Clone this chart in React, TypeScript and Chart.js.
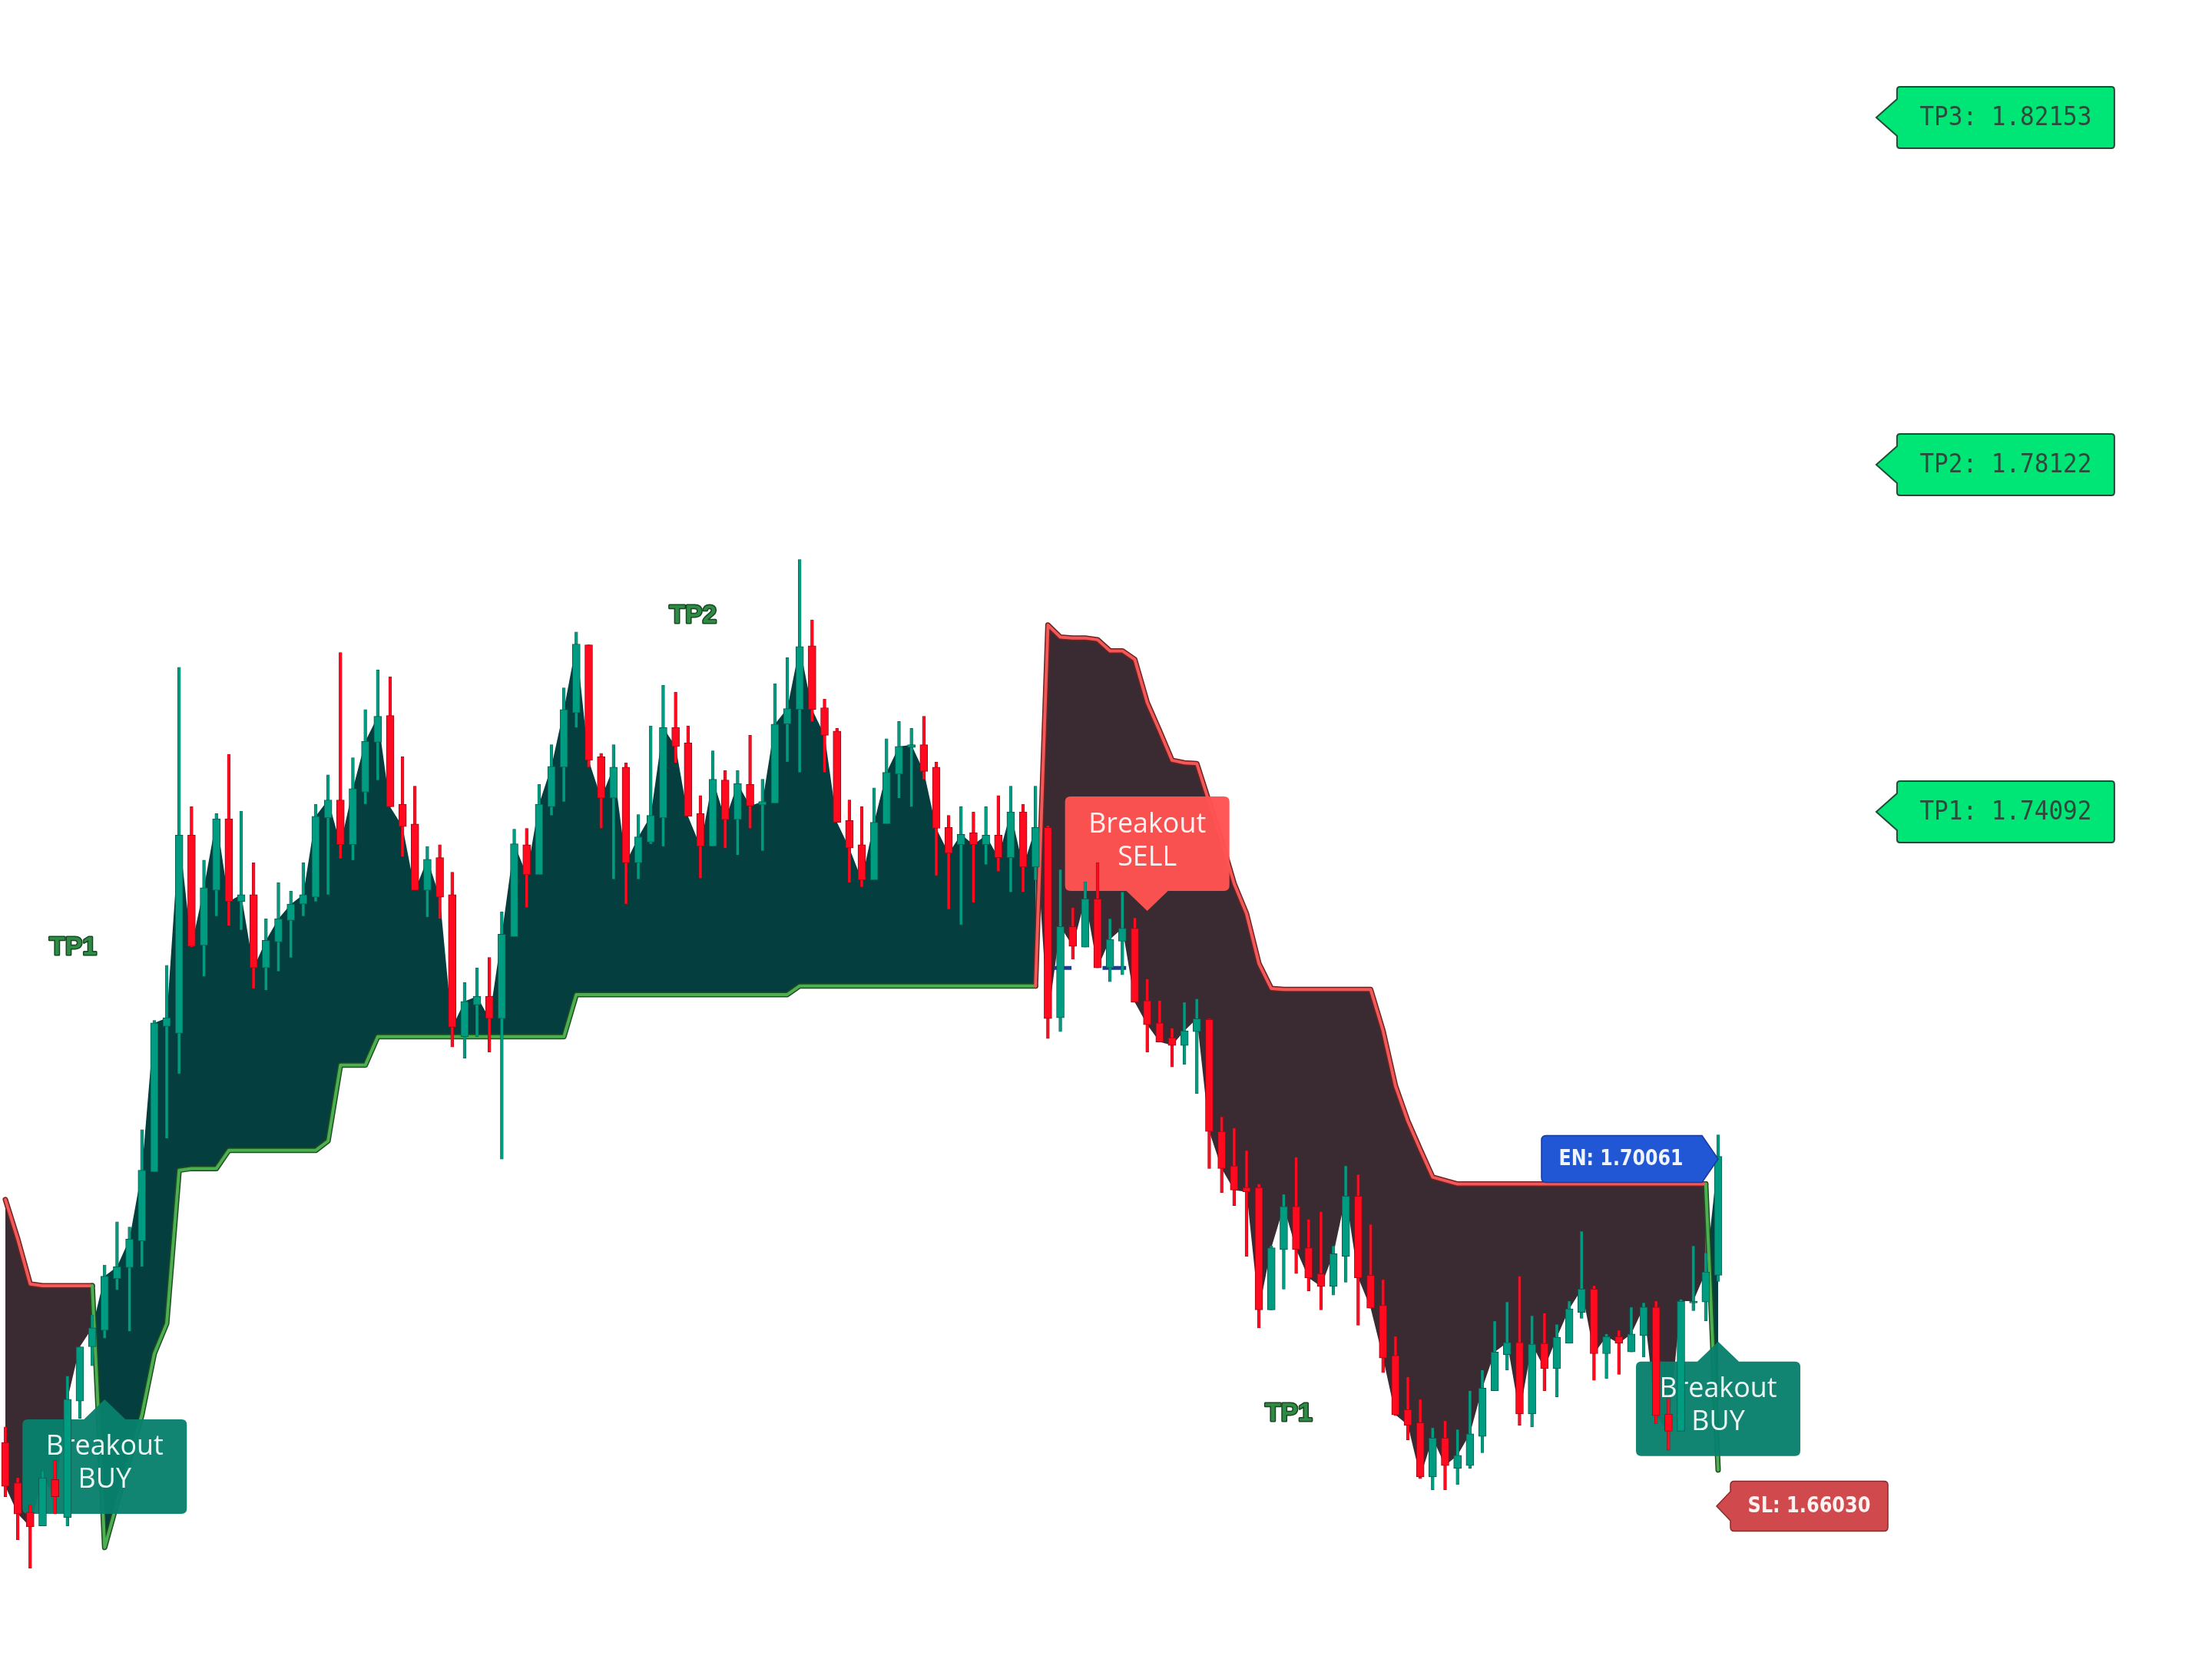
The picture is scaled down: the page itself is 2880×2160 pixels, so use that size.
import React, { useEffect, useRef } from "react";
import { Chart, registerables } from "chart.js";

Chart.register(...registerables);

// ---------------- data (prices) ----------------
const opens = [
  1.6677, 1.6630, 1.6596, 1.6580, 1.6634, 1.6590, 1.6725, 1.6788, 1.6807, 1.6867,
  1.6880, 1.6911, 1.6991, 1.7160, 1.7152, 1.7382, 1.7254, 1.7318, 1.7401, 1.7305,
  1.7313, 1.7228, 1.7258, 1.7283, 1.7302, 1.7310, 1.7402, 1.7423, 1.7371, 1.7432,
  1.7490, 1.7521, 1.7418, 1.7395, 1.7318, 1.7356, 1.7313, 1.7148, 1.7185, 1.7195,
  1.7169, 1.7264, 1.7371, 1.7336, 1.7415, 1.7461, 1.7524, 1.7603, 1.7473, 1.7425,
  1.7461, 1.7350, 1.7374, 1.7402, 1.7507, 1.7489, 1.7407, 1.7369, 1.7446, 1.7400,
  1.7441, 1.7417, 1.7419, 1.7511, 1.7528, 1.7602, 1.7530, 1.7503, 1.7399, 1.7371,
  1.7330, 1.7395, 1.7453, 1.7484, 1.7487, 1.7461, 1.7391, 1.7371, 1.7385, 1.7371,
  1.7382, 1.7356, 1.7409, 1.7345, 1.7391, 1.7170, 1.7276, 1.7252, 1.7308, 1.7228,
  1.7259, 1.7274, 1.7190, 1.7164, 1.7147, 1.7138, 1.7154, 1.7168, 1.7038, 1.6998,
  1.6973, 1.6973, 1.6831, 1.6901, 1.6951, 1.6903, 1.6873, 1.6858, 1.6893, 1.6963,
  1.6871, 1.6836, 1.6778, 1.6715, 1.6700, 1.6637, 1.6682, 1.6647, 1.6650, 1.6684,
  1.6737, 1.6779, 1.6793, 1.6710, 1.6792, 1.6763, 1.6792, 1.6828, 1.6855, 1.6780,
  1.6800, 1.6782, 1.6801, 1.6834, 1.6710, 1.6690, 1.6839, 1.6840, 1.6871,
];

const highs = [
  1.6695, 1.6636, 1.6604, 1.6644, 1.6656, 1.6754, 1.6788, 1.6825, 1.6883, 1.6933,
  1.6927, 1.7040, 1.7167, 1.7231, 1.7577, 1.7415, 1.7353, 1.7407, 1.7476, 1.7410,
  1.7350, 1.7285, 1.7327, 1.7317, 1.7350, 1.7418, 1.7452, 1.7594, 1.7472, 1.7528,
  1.7574, 1.7566, 1.7473, 1.7439, 1.7369, 1.7371, 1.7339, 1.7211, 1.7228, 1.7240,
  1.7293, 1.7389, 1.7390, 1.7441, 1.7487, 1.7553, 1.7618, 1.7603, 1.7477, 1.7487,
  1.7466, 1.7406, 1.7509, 1.7556, 1.7548, 1.7509, 1.7428, 1.7480, 1.7457, 1.7457,
  1.7498, 1.7447, 1.7558, 1.7588, 1.7702, 1.7632, 1.7540, 1.7506, 1.7423, 1.7415,
  1.7437, 1.7494, 1.7514, 1.7506, 1.7520, 1.7467, 1.7405, 1.7415, 1.7409, 1.7415,
  1.7428, 1.7439, 1.7418, 1.7439, 1.7393, 1.7342, 1.7298, 1.7328, 1.7350, 1.7285,
  1.7316, 1.7286, 1.7215, 1.7190, 1.7158, 1.7188, 1.7192, 1.7169, 1.7055, 1.7042,
  1.7016, 1.6977, 1.6905, 1.6965, 1.7008, 1.6936, 1.6945, 1.6905, 1.6998, 1.6988,
  1.6930, 1.6866, 1.6800, 1.6753, 1.6727, 1.6694, 1.6702, 1.6692, 1.6737, 1.6761,
  1.6818, 1.6840, 1.6870, 1.6824, 1.6827, 1.6814, 1.6841, 1.6922, 1.6859, 1.6803,
  1.6807, 1.6834, 1.6839, 1.6841, 1.6728, 1.6843, 1.6905, 1.6897, 1.7034,
];

const lows = [
  1.6614, 1.6564, 1.6531, 1.6580, 1.6594, 1.6580, 1.6705, 1.6766, 1.6798, 1.6854,
  1.6806, 1.6881, 1.6991, 1.7030, 1.7105, 1.7252, 1.7218, 1.7288, 1.7277, 1.7272,
  1.7204, 1.7202, 1.7224, 1.7240, 1.7288, 1.7305, 1.7313, 1.7355, 1.7353, 1.7418,
  1.7446, 1.7415, 1.7357, 1.7318, 1.7287, 1.7285, 1.7136, 1.7123, 1.7148, 1.7130,
  1.7006, 1.7264, 1.7298, 1.7336, 1.7405, 1.7421, 1.7507, 1.7461, 1.7390, 1.7331,
  1.7302, 1.7331, 1.7372, 1.7369, 1.7466, 1.7404, 1.7332, 1.7369, 1.7367, 1.7359,
  1.7390, 1.7364, 1.7419, 1.7467, 1.7455, 1.7514, 1.7455, 1.7397, 1.7327, 1.7322,
  1.7330, 1.7395, 1.7425, 1.7415, 1.7447, 1.7335, 1.7296, 1.7278, 1.7304, 1.7348,
  1.7340, 1.7316, 1.7316, 1.7330, 1.7146, 1.7154, 1.7238, 1.7252, 1.7228, 1.7212,
  1.7220, 1.7188, 1.7130, 1.7142, 1.7113, 1.7116, 1.7082, 1.6995, 1.6967, 1.6952,
  1.6893, 1.6810, 1.6831, 1.6855, 1.6873, 1.6853, 1.6831, 1.6848, 1.6863, 1.6813,
  1.6833, 1.6758, 1.6708, 1.6680, 1.6635, 1.6622, 1.6622, 1.6628, 1.6647, 1.6665,
  1.6737, 1.6761, 1.6697, 1.6695, 1.6737, 1.6730, 1.6792, 1.6821, 1.6749, 1.6751,
  1.6756, 1.6782, 1.6776, 1.6699, 1.6668, 1.6690, 1.6830, 1.6818, 1.6864,
];

const closes = [
  1.6626, 1.6594, 1.6579, 1.6636, 1.6614, 1.6727, 1.6788, 1.6810, 1.6870, 1.6881,
  1.6913, 1.6993, 1.7164, 1.7170, 1.7382, 1.7253, 1.7321, 1.7401, 1.7305, 1.7313,
  1.7228, 1.7260, 1.7285, 1.7302, 1.7313, 1.7404, 1.7423, 1.7371, 1.7436, 1.7491,
  1.7520, 1.7415, 1.7392, 1.7318, 1.7354, 1.7310, 1.7159, 1.7189, 1.7195, 1.7169,
  1.7267, 1.7372, 1.7336, 1.7418, 1.7462, 1.7528, 1.7604, 1.7469, 1.7425, 1.7461,
  1.7350, 1.7380, 1.7405, 1.7507, 1.7485, 1.7404, 1.7369, 1.7447, 1.7400, 1.7442,
  1.7416, 1.7421, 1.7511, 1.7529, 1.7601, 1.7528, 1.7498, 1.7397, 1.7367, 1.7330,
  1.7397, 1.7455, 1.7485, 1.7487, 1.7456, 1.7390, 1.7361, 1.7383, 1.7371, 1.7382,
  1.7356, 1.7409, 1.7345, 1.7391, 1.7169, 1.7276, 1.7253, 1.7308, 1.7228, 1.7261,
  1.7274, 1.7188, 1.7162, 1.7142, 1.7138, 1.7155, 1.7169, 1.7038, 1.6995, 1.6970,
  1.6968, 1.6831, 1.6903, 1.6951, 1.6901, 1.6868, 1.6858, 1.6896, 1.6963, 1.6868,
  1.6833, 1.6775, 1.6709, 1.6697, 1.6637, 1.6682, 1.6650, 1.6662, 1.6687, 1.6740,
  1.6782, 1.6793, 1.6710, 1.6791, 1.6763, 1.6799, 1.6832, 1.6855, 1.6780, 1.6800,
  1.6792, 1.6803, 1.6834, 1.6708, 1.6690, 1.6841, 1.6841, 1.6875, 1.7009,
];

// trailing breakout stop
const trailStop = [
  1.6959, 1.6913, 1.6861, 1.6859, 1.6859, 1.6859, 1.6859, 1.6859, 1.6555, 1.6607,
  1.6657, 1.6709, 1.6780, 1.6815, 1.6993, 1.6995, 1.6995, 1.6995, 1.7016, 1.7016,
  1.7016, 1.7016, 1.7016, 1.7016, 1.7016, 1.7016, 1.7027, 1.7115, 1.7115, 1.7115,
  1.7148, 1.7148, 1.7148, 1.7148, 1.7148, 1.7148, 1.7148, 1.7148, 1.7148, 1.7148,
  1.7148, 1.7148, 1.7148, 1.7148, 1.7148, 1.7148, 1.7197, 1.7197, 1.7197, 1.7197,
  1.7197, 1.7197, 1.7197, 1.7197, 1.7197, 1.7197, 1.7197, 1.7197, 1.7197, 1.7197,
  1.7197, 1.7197, 1.7197, 1.7197, 1.7207, 1.7207, 1.7207, 1.7207, 1.7207, 1.7207,
  1.7207, 1.7207, 1.7207, 1.7207, 1.7207, 1.7207, 1.7207, 1.7207, 1.7207, 1.7207,
  1.7207, 1.7207, 1.7207, 1.7207, 1.7626, 1.7612, 1.7611, 1.7611, 1.7609, 1.7596,
  1.7596, 1.7586, 1.7536, 1.7503, 1.7469, 1.7466, 1.7465, 1.7420, 1.7375, 1.7326,
  1.7291, 1.7233, 1.7204, 1.7203, 1.7203, 1.7203, 1.7203, 1.7203, 1.7203, 1.7203,
  1.7203, 1.7155, 1.7091, 1.7050, 1.7017, 1.6985, 1.6981, 1.6977, 1.6977, 1.6977,
  1.6977, 1.6977, 1.6977, 1.6977, 1.6977, 1.6977, 1.6977, 1.6977, 1.6977, 1.6977,
  1.6977, 1.6977, 1.6977, 1.6977, 1.6977, 1.6977, 1.6977, 1.6977, 1.6645,
];

// 1 = long regime (green stop), -1 = short regime (red stop)
const trailSide = [
  -1, -1, -1, -1, -1, -1, -1, -1, 1, 1,
  1, 1, 1, 1, 1, 1, 1, 1, 1, 1,
  1, 1, 1, 1, 1, 1, 1, 1, 1, 1,
  1, 1, 1, 1, 1, 1, 1, 1, 1, 1,
  1, 1, 1, 1, 1, 1, 1, 1, 1, 1,
  1, 1, 1, 1, 1, 1, 1, 1, 1, 1,
  1, 1, 1, 1, 1, 1, 1, 1, 1, 1,
  1, 1, 1, 1, 1, 1, 1, 1, 1, 1,
  1, 1, 1, 1, -1, -1, -1, -1, -1, -1,
  -1, -1, -1, -1, -1, -1, -1, -1, -1, -1,
  -1, -1, -1, -1, -1, -1, -1, -1, -1, -1,
  -1, -1, -1, -1, -1, -1, -1, -1, -1, -1,
  -1, -1, -1, -1, -1, -1, -1, -1, -1, -1,
  -1, -1, -1, -1, -1, -1, -1, -1, 1,
];

// small entry-level dashes
const levelDashBars = [84.5, 85.9, 86.5, 88.4, 90.3];
const levelDashPrices = [1.7228, 1.7228, null, 1.7228, 1.7228];

const targetTags = [
  { text: "TP3: 1.82153", price: 1.82153 },
  { text: "TP2: 1.78122", price: 1.78122 },
  { text: "TP1: 1.74092", price: 1.74092 },
];
const entryTag = { text: "EN: 1.70061", price: 1.70061 };
const stopTag = { text: "SL: 1.66030", price: 1.6603 };
const signals = [
  { line1: "Breakout", line2: "BUY", bar: 8, price: 1.6727, side: 1 },
  { line1: "Breakout", line2: "SELL", bar: 92, price: 1.7294, side: -1 },
  { line1: "Breakout", line2: "BUY", bar: 138, price: 1.6794, side: 1 },
];
const tpMarks = [
  { text: "TP1", bar: 5.45, price: 1.7252 },
  { text: "TP2", bar: 55.4, price: 1.7637 },
  { text: "TP1", bar: 103.4, price: 1.671 },
];

// view window
const PRICE_MIN = 1.642552;
const PRICE_MAX = 1.835174;
const BAR_MIN = -0.433;
const BAR_MAX = 177.79;
const TAG_BAR = 150.74;
const LAST_BAR = 138;

// ---------------- styles ----------------
const UP_COLOR = "#009c82";
const DOWN_COLOR = "#ff0a1e";
const UP_EDGE = "#0b5c4f";
const DOWN_EDGE = "#9a0a18";
const LONG_LINE = "#4caf50";
const SHORT_LINE = "#f25858";
const LONG_EDGE = "#1f4d22";
const SHORT_EDGE = "#6e2222";
const LONG_FILL = "#053e3e";
const SHORT_FILL = "#3a2b32";

function scaledText(ctx: CanvasRenderingContext2D, text: string, cx: number, cy: number, k: number) {
  ctx.save();
  ctx.translate(cx, cy);
  ctx.scale(k, 1);
  ctx.fillText(text, 0, 0);
  ctx.restore();
}

function fitText(ctx: CanvasRenderingContext2D, text: string, cx: number, cy: number, font: string, width: number) {
  ctx.font = font;
  ctx.textAlign = "center";
  ctx.textBaseline = "middle";
  const w = ctx.measureText(text).width;
  scaledText(ctx, text, cx, cy, width / w);
}

function drawSignal(ctx: CanvasRenderingContext2D, chart: any, s: any) {
  const cx = chart.scales.x.getPixelForValue(s.bar);
  const ay = chart.scales.y.getPixelForValue(s.price);
  const w = 214, h = 123, r = 7, ph = 26, hw = 27;
  const left = cx - w / 2, right = cx + w / 2;
  const up = s.side > 0;
  const top = up ? ay + ph : ay - ph - h;
  const bottom = top + h;
  ctx.save();
  ctx.beginPath();
  ctx.moveTo(left + r, top);
  if (up) {
    ctx.lineTo(cx - hw, top);
    ctx.lineTo(cx, ay);
    ctx.lineTo(cx + hw, top);
  }
  ctx.lineTo(right - r, top);
  ctx.quadraticCurveTo(right, top, right, top + r);
  ctx.lineTo(right, bottom - r);
  ctx.quadraticCurveTo(right, bottom, right - r, bottom);
  if (!up) {
    ctx.lineTo(cx + hw, bottom);
    ctx.lineTo(cx, ay);
    ctx.lineTo(cx - hw, bottom);
  }
  ctx.lineTo(left + r, bottom);
  ctx.quadraticCurveTo(left, bottom, left, bottom - r);
  ctx.lineTo(left, top + r);
  ctx.quadraticCurveTo(left, top, left + r, top);
  ctx.closePath();
  ctx.fillStyle = up ? "rgba(8,128,108,0.96)" : "rgba(255,82,82,0.97)";
  ctx.fill();
  ctx.fillStyle = "rgba(255,255,255,0.92)";
  ctx.font = "500 37px 'Open Sans'";
  ctx.textAlign = "center";
  ctx.textBaseline = "middle";
  const k = 153 / ctx.measureText(s.line1).width;
  scaledText(ctx, s.line1, cx, top + 36, k);
  scaledText(ctx, s.line2, cx, top + 79, k);
  ctx.restore();
}

function leftTag(ctx: CanvasRenderingContext2D, tipX: number, cy: number, o: any) {
  const left = tipX + o.aw, right = left + o.w, top = cy - o.h / 2, bottom = cy + o.h / 2, r = o.r;
  ctx.save();
  ctx.beginPath();
  ctx.moveTo(left + r, top);
  ctx.lineTo(right - r, top);
  ctx.quadraticCurveTo(right, top, right, top + r);
  ctx.lineTo(right, bottom - r);
  ctx.quadraticCurveTo(right, bottom, right - r, bottom);
  ctx.lineTo(left + r, bottom);
  ctx.quadraticCurveTo(left, bottom, left, bottom - r);
  ctx.lineTo(left, cy + o.ah);
  ctx.lineTo(tipX, cy);
  ctx.lineTo(left, cy - o.ah);
  ctx.lineTo(left, top + r);
  ctx.quadraticCurveTo(left, top, left + r, top);
  ctx.closePath();
  ctx.fillStyle = o.fill;
  ctx.fill();
  ctx.lineWidth = o.lw;
  ctx.strokeStyle = o.stroke;
  ctx.stroke();
  ctx.fillStyle = o.textColor;
  fitText(ctx, o.text, (left + right) / 2, cy + 1, o.font, o.textW);
  ctx.restore();
}

function rightTag(ctx: CanvasRenderingContext2D, tipX: number, cy: number, o: any) {
  const right = tipX - o.aw, left = right - o.w, top = cy - o.h / 2, bottom = cy + o.h / 2, r = o.r;
  ctx.save();
  ctx.beginPath();
  ctx.moveTo(left + r, top);
  ctx.lineTo(right - 2, top);
  ctx.lineTo(tipX, cy);
  ctx.lineTo(right - 2, bottom);
  ctx.lineTo(left + r, bottom);
  ctx.quadraticCurveTo(left, bottom, left, bottom - r);
  ctx.lineTo(left, top + r);
  ctx.quadraticCurveTo(left, top, left + r, top);
  ctx.closePath();
  ctx.fillStyle = o.fill;
  ctx.fill();
  ctx.lineWidth = o.lw;
  ctx.strokeStyle = o.stroke;
  ctx.stroke();
  ctx.fillStyle = o.textColor;
  fitText(ctx, o.text, (left + right) / 2 - 2, cy + 1, o.font, o.textW);
  ctx.restore();
}

const overlayPlugin = {
  id: "overlay",
  beforeDatasetDraw(chart: any, args: any) {
    if (args.index !== 1) return;
    const ctx = chart.ctx;
    signals.forEach((s) => drawSignal(ctx, chart, s));
  },
  afterDraw(chart: any) {
    const ctx: CanvasRenderingContext2D = chart.ctx;
    const xs = chart.scales.x, ys = chart.scales.y;
    tpMarks.forEach((m) => {
      const x = xs.getPixelForValue(m.bar), y = ys.getPixelForValue(m.price);
      ctx.save();
      ctx.font = "bold 34px 'Liberation Sans'";
      ctx.textAlign = "center";
      ctx.textBaseline = "middle";
      const k = 62 / ctx.measureText(m.text).width;
      ctx.translate(x, y);
      ctx.scale(k, 1);
      ctx.lineWidth = 3;
      ctx.strokeStyle = "#1b4424";
      ctx.lineJoin = "round";
      ctx.strokeText(m.text, 0, 0);
      ctx.fillStyle = "#2e8b44";
      ctx.fillText(m.text, 0, 0);
      ctx.restore();
    });
    const tagX = xs.getPixelForValue(TAG_BAR);
    targetTags.forEach((t) => {
      leftTag(ctx, tagX, ys.getPixelForValue(t.price), {
        aw: 27, w: 283, h: 80, ah: 24, r: 4, lw: 2,
        fill: "#00e676", stroke: "#1e4d36", textColor: "#2d4a3c",
        text: t.text, font: "33px 'DejaVu Sans Mono'", textW: 224,
      });
    });
    const lastX = xs.getPixelForValue(LAST_BAR);
    rightTag(ctx, lastX, ys.getPixelForValue(entryTag.price), {
      aw: 19, w: 211, h: 61, r: 6, lw: 1.5,
      fill: "#2157d5", stroke: "#17399a", textColor: "rgba(255,255,255,0.93)",
      text: entryTag.text, font: "bold 28px 'DejaVu Sans'", textW: 162,
    });
    leftTag(ctx, lastX - 2, ys.getPixelForValue(stopTag.price), {
      aw: 18, w: 205, h: 65, ah: 19, r: 5, lw: 1.5,
      fill: "#d04a4d", stroke: "#8a2a2c", textColor: "rgba(255,255,255,0.93)",
      text: stopTag.text, font: "bold 28px 'DejaVu Sans'", textW: 160,
    });
  },
};

export default function App() {
  const ref = useRef<HTMLCanvasElement>(null);

  useEffect(() => {
    if (!ref.current) return;
    const idx = closes.map((_, i) => i);
    const up = idx.map((i) => closes[i] >= opens[i]);
    const chart = new Chart(ref.current, {
      type: "line",
      data: {
        datasets: [
          {
            type: "bar",
            data: idx.map((i) => ({ x: i, y: [opens[i], closes[i]] })) as any,
            backgroundColor: up.map((u) => (u ? UP_COLOR : DOWN_COLOR)),
            borderColor: up.map((u) => (u ? UP_EDGE : DOWN_EDGE)),
            borderWidth: 1,
            borderSkipped: false,
            barThickness: 10,
            maxBarThickness: 10,
            grouped: false,
            order: 0,
          } as any,
          {
            type: "bar",
            data: idx.map((i) => ({ x: i, y: [lows[i], highs[i]] })) as any,
            backgroundColor: up.map((u) => (u ? UP_COLOR : DOWN_COLOR)),
            borderColor: up.map((u) => (u ? UP_EDGE : DOWN_EDGE)),
            borderWidth: 0.6,
            borderSkipped: false,
            barThickness: 3.8,
            maxBarThickness: 3.8,
            grouped: false,
            order: 1,
          } as any,
          {
            type: "line",
            data: idx.map((i) => ({ x: i, y: trailStop[i] })),
            borderWidth: 4,
            borderColor: LONG_LINE,
            segment: {
              borderColor: (c: any) => (trailSide[c.p1DataIndex] > 0 ? LONG_LINE : SHORT_LINE),
            },
            borderJoinStyle: "round",
            borderCapStyle: "round",
            pointRadius: 0,
            fill: false,
            order: 3,
          } as any,
          {
            type: "line",
            data: idx.map((i) => ({ x: i, y: trailStop[i] })),
            borderWidth: 7,
            borderColor: LONG_EDGE,
            segment: {
              borderColor: (c: any) => (trailSide[c.p1DataIndex] > 0 ? LONG_EDGE : SHORT_EDGE),
            },
            borderJoinStyle: "round",
            borderCapStyle: "round",
            pointRadius: 0,
            fill: false,
            order: 4,
          } as any,
          {
            type: "line",
            data: idx.map((i) => ({ x: i, y: closes[i] })),
            borderWidth: 0,
            borderColor: "rgba(0,0,0,0)",
            pointRadius: 0,
            fill: { target: 2, above: LONG_FILL, below: SHORT_FILL },
            order: 5,
          } as any,
          {
            type: "line",
            data: levelDashBars.map((b, i) => ({ x: b, y: levelDashPrices[i] })),
            borderWidth: 5,
            borderColor: "#1d3b8c",
            pointRadius: 0,
            spanGaps: false,
            fill: false,
            order: 2,
          } as any,
        ],
      },
      options: {
        responsive: false,
        maintainAspectRatio: false,
        animation: false,
        events: [],
        layout: { padding: 0 },
        plugins: { legend: { display: false }, tooltip: { enabled: false } },
        scales: {
          x: { type: "linear", min: BAR_MIN, max: BAR_MAX, display: false, offset: false },
          y: { type: "linear", min: PRICE_MIN, max: PRICE_MAX, display: false },
        },
      } as any,
      plugins: [overlayPlugin as any],
    });
    return () => chart.destroy();
  }, []);

  return (
    <div style={{ position: "fixed", left: 0, top: 0, width: 2880, height: 2160, background: "#ffffff" }}>
      <canvas ref={ref} width={2880} height={2160} style={{ width: "2880px", height: "2160px", display: "block" }} />
    </div>
  );
}
